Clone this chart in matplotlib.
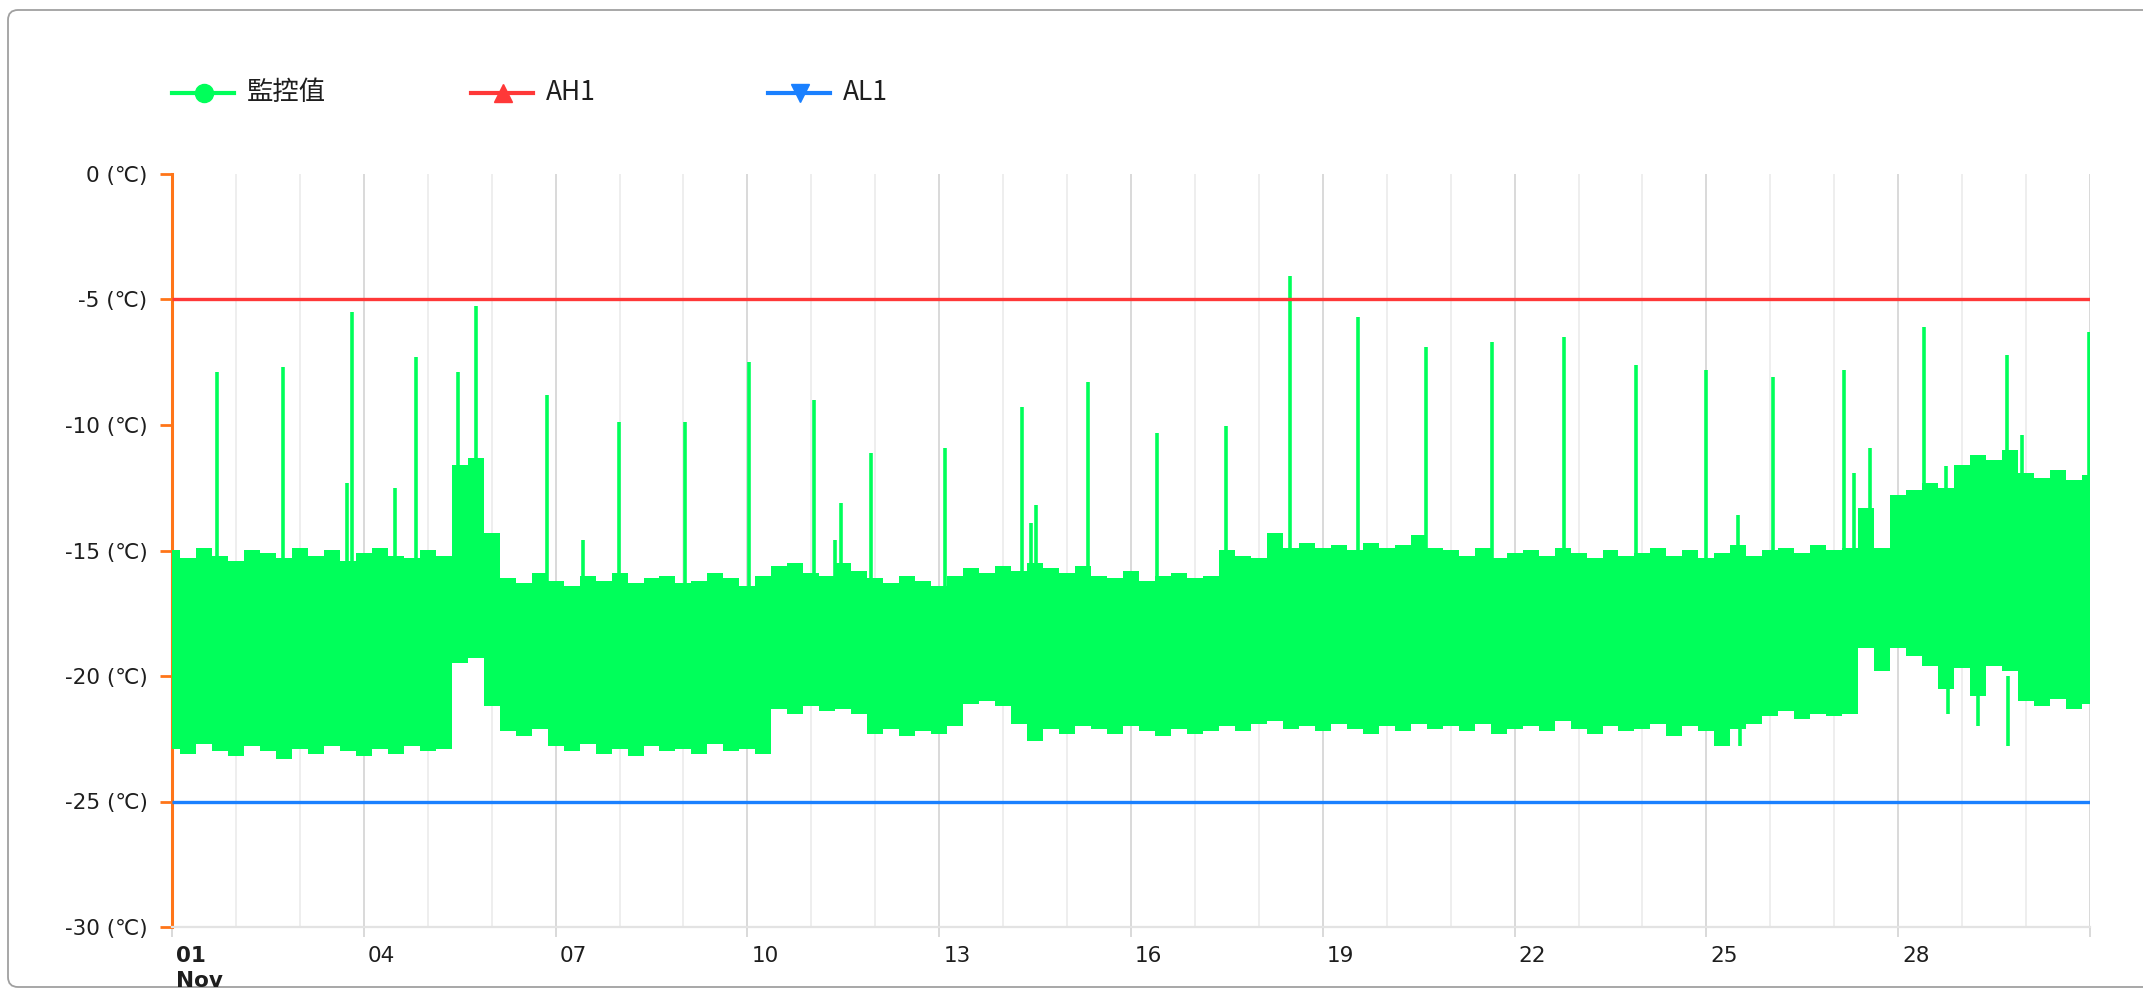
import matplotlib
matplotlib.use("Agg")
import matplotlib.pyplot as plt
import numpy as np
from matplotlib.lines import Line2D
from matplotlib.patches import FancyBboxPatch
from matplotlib import transforms

plt.rcParams['font.family'] = ['DejaVu Sans', 'Noto Sans CJK TC']

# monitored value (監控值): band envelope read every quarter day from 01 Nov 00:00
band_day = [q / 4 for q in range(121)]
band_hi = [-15.0, -15.3, -14.9, -15.2, -15.4, -15.0, -15.1, -15.3, -14.9, -15.2,
           -15.0, -15.4, -15.1, -14.9, -15.2, -15.3, -15.0, -15.2,
           -11.6, -11.3, -14.3,
           -16.1, -16.3, -15.9, -16.2, -16.4, -16.0, -16.2, -15.9, -16.3, -16.1,
           -16.0, -16.3, -16.2, -15.9, -16.1, -16.4, -16.0,
           -15.6, -15.5, -15.9, -16.0, -15.5, -15.8,
           -16.1, -16.3, -16.0, -16.2, -16.4, -16.0,
           -15.7, -15.9, -15.6,
           -15.8, -15.5, -15.7, -15.9, -15.6,
           -16.0, -16.1, -15.8, -16.2, -16.0, -15.9, -16.1, -16.0,
           -15.0, -15.2, -15.3,
           -14.3, -14.9,
           -14.7, -14.9, -14.8, -15.0, -14.7, -14.9, -14.8, -14.4, -14.9,
           -15.0, -15.2, -14.9, -15.3, -15.1, -15.0, -15.2, -14.9, -15.1, -15.3,
           -15.0, -15.2, -15.1, -14.9, -15.2, -15.0, -15.3, -15.1, -14.8, -15.2,
           -15.0, -14.9, -15.1, -14.8, -15.0, -14.9,
           -13.3, -14.9,
           -12.8, -12.6, -12.3, -12.5,
           -11.6, -11.2, -11.4,
           -11.0, -11.9, -12.1, -11.8, -12.2, -12.0]
band_lo = [-22.9, -23.1, -22.7, -23.0, -23.2, -22.8, -23.0, -23.3, -22.9, -23.1,
           -22.8, -23.0, -23.2, -22.9, -23.1, -22.8, -23.0, -22.9,
           -19.5, -19.3, -21.2,
           -22.2, -22.4, -22.1,
           -22.8, -23.0, -22.7, -23.1, -22.9, -23.2, -22.8, -23.0, -22.9, -23.1,
           -22.7, -23.0, -22.9, -23.1,
           -21.3, -21.5, -21.2, -21.4, -21.3, -21.5,
           -22.3, -22.1, -22.4, -22.2, -22.3, -22.0,
           -21.1, -21.0, -21.2,
           -21.9, -22.6, -22.1, -22.3, -22.0,
           -22.1, -22.3, -22.0, -22.2, -22.4, -22.1, -22.3, -22.2,
           -22.0, -22.2, -21.9,
           -21.8, -22.1,
           -22.0, -22.2, -21.9, -22.1, -22.3, -22.0, -22.2, -21.9, -22.1,
           -22.0, -22.2, -21.9, -22.3, -22.1, -22.0, -22.2, -21.8, -22.1, -22.3,
           -22.0, -22.2, -22.1, -21.9, -22.4, -22.0, -22.2, -22.8, -22.1, -21.9,
           -21.6, -21.4, -21.7, -21.5, -21.6, -21.5,
           -18.9, -19.8,
           -18.9, -19.2, -19.6, -20.5,
           -19.7, -20.8, -19.6,
           -19.8, -21.0, -21.2, -20.9, -21.3, -21.1]

# short peaks above the band and dips below it
spike_day = [0.71, 1.74, 2.73, 2.81, 3.49, 3.81, 4.47, 4.75, 5.87, 6.43, 6.99, 8.03,
             9.03, 10.04, 10.37, 10.47, 10.94, 12.09, 13.29, 13.43, 13.52, 14.32,
             15.41, 16.48, 17.49, 18.55, 19.62, 20.64, 21.77, 22.90, 24.00, 24.50,
             25.04, 26.15, 26.31, 26.56, 27.41, 27.75, 28.70, 28.94, 29.98]
spike_val = [-7.9, -7.7, -12.3, -5.5, -12.5, -7.3, -7.9, -5.25, -8.8, -14.6, -9.9, -9.9,
             -7.5, -9.0, -14.6, -13.1, -11.1, -10.9, -9.3, -13.9, -13.2, -8.3,
             -10.3, -10.05, -4.05, -5.7, -6.9, -6.7, -6.5, -7.6, -7.8, -13.6,
             -8.1, -7.8, -11.9, -10.9, -6.1, -11.65, -7.2, -10.4, -6.3]
dip_day = [24.53, 27.78, 28.25, 28.72]
dip_val = [-22.8, -21.5, -22.0, -22.8]

# alarm limits
ah1_day = [0, 30]
ah1_val = [-5, -5]
al1_day = [0, 30]
al1_val = [-25, -25]

yticks = [0, -5, -10, -15, -20, -25, -30]
xtick_days = list(range(0, 31, 3))
xtick_labels = ['01\nNov', '04', '07', '10', '13', '16', '19', '22', '25', '28', '']

GREEN = '#00ff5a'
RED = '#ff3838'
BLUE = '#1a80ff'
ORANGE = '#ff7518'
TXT = '#1e1e1e'

W, H = 2143, 989
fig = plt.figure(figsize=(W / 100, H / 100), dpi=100)
ax = fig.add_axes([172 / W, 1 - 927 / H, (2090 - 172) / W, (927 - 174) / H])

# panel frame
frame = FancyBboxPatch((8, 2), 2200, 977, boxstyle='round,pad=0,rounding_size=10',
                       transform=transforms.IdentityTransform(),
                       facecolor='white', edgecolor='#a0a0a0', linewidth=1.3, zorder=-10)
fig.patches.append(frame)
ax.set_facecolor('none')

# series
ax.fill_between(band_day, band_lo, band_hi, step='mid', color=GREEN, linewidth=0, zorder=3)
ax.vlines(spike_day, -17, spike_val, color=GREEN, linewidth=2.6, zorder=3)
ax.vlines(dip_day, -20, dip_val, color=GREEN, linewidth=2.6, zorder=3)
ax.plot(ah1_day, ah1_val, color=RED, linewidth=2.4, zorder=4, solid_capstyle='butt')
ax.plot(al1_day, al1_val, color=BLUE, linewidth=2.4, zorder=4, solid_capstyle='butt')

ax.set_xlim(0, 30)
ax.set_ylim(-30, 0)

# grid
ax.set_xticks(xtick_days)
ax.set_xticks(range(0, 31), minor=True)
ax.grid(True, which='minor', axis='x', color='#eeeeee', linewidth=1.4, zorder=0)
ax.grid(True, which='major', axis='x', color='#d9d9d9', linewidth=1.4, zorder=0)
ax.set_axisbelow(True)
ax.tick_params(axis='x', which='minor', length=0)
ax.tick_params(axis='x', which='major', length=7, width=1.4, color='#d9d9d9', labelbottom=False)

ax.set_yticks(yticks)
ax.set_yticklabels([f"{v} (℃)" for v in yticks], fontsize=15.5, color=TXT)
ax.tick_params(axis='y', length=8.6, width=2.0, color=ORANGE, pad=9)

for s in ['top', 'right']:
    ax.spines[s].set_visible(False)
ax.spines['left'].set_color(ORANGE)
ax.spines['left'].set_linewidth(2.2)
ax.spines['bottom'].set_color('#e3e3e3')
ax.spines['bottom'].set_linewidth(1.6)

# x labels, left aligned just after the tick
lab_tr = transforms.offset_copy(ax.get_xaxis_transform(), fig=fig, x=4, y=-19, units='dots')
for d, lab in zip(xtick_days, xtick_labels):
    ax.text(d, 0, lab, transform=lab_tr, ha='left', va='top', fontsize=15.5,
            color=TXT, fontweight='bold' if 'Nov' in lab else 'normal',
            linespacing=1.3, clip_on=False)

# legend
leg_y = 1 - 93 / H
items = [('監控值', GREEN, 'o', 172), ('AH1', RED, '^', 471), ('AL1', BLUE, 'v', 768)]
for name, col, mk, x0 in items:
    fig.add_artist(Line2D([x0 / W, (x0 + 62) / W], [leg_y, leg_y], transform=fig.transFigure,
                          color=col, linewidth=3))
    fig.add_artist(Line2D([(x0 + 32) / W], [leg_y], transform=fig.transFigure, color=col,
                          marker=mk, markersize=13, linestyle='none'))
    fig.text((x0 + 75) / W, leg_y, name, ha='left', va='center', fontsize=19, color=TXT,
             family=['Noto Sans CJK TC', 'DejaVu Sans'])

fig.savefig('out.png', dpi=100)
